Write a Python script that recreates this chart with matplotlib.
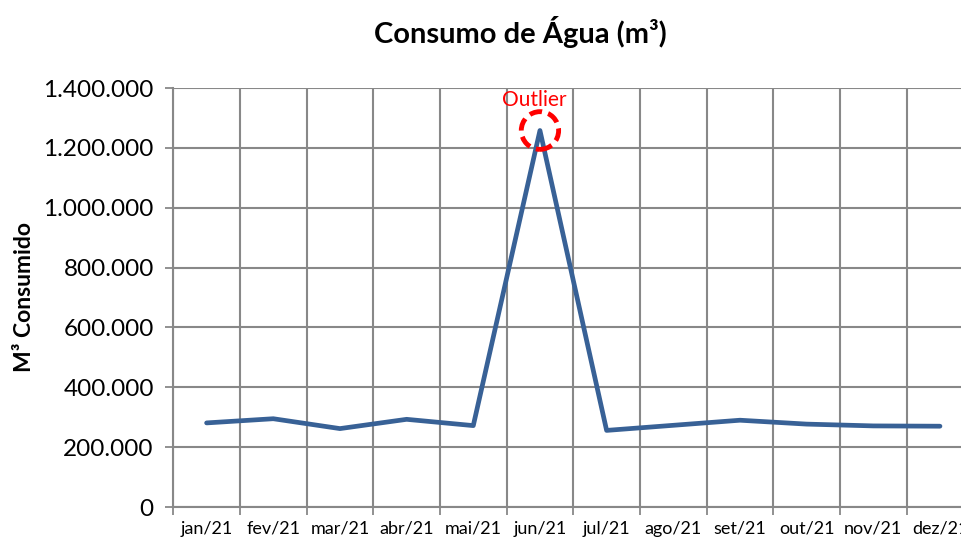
import matplotlib
matplotlib.use("Agg")
import matplotlib.pyplot as plt
from matplotlib.patches import Ellipse
from matplotlib.ticker import FuncFormatter, MultipleLocator
import numpy as np

months = ["jan/21", "fev/21", "mar/21", "abr/21", "mai/21", "jun/21",
          "jul/21", "ago/21", "set/21", "out/21", "nov/21", "dez/21"]
consumo = [281000, 295000, 262000, 293000, 272000, 1258000,
           256000, 273000, 290000, 277000, 271000, 270000]
outlier_label = "Outlier"
outlier_index = 5

plt.rcParams['font.family'] = ['Lato', 'DejaVu Sans']

fig = plt.figure(figsize=(9.61, 5.38), dpi=100)
ax = fig.add_axes([0.1803, 0.0576, 1.0128 - 0.1803, 0.8364 - 0.0576])

x = np.arange(len(months))
ax.plot(x, consumo, color="#386196", linewidth=3.4, solid_capstyle="round",
        solid_joinstyle="round", zorder=3)

ax.set_xlim(-0.5, len(months) - 0.5)
ax.set_ylim(0, 1400000)
ax.yaxis.set_major_locator(MultipleLocator(200000))
ax.yaxis.set_major_formatter(FuncFormatter(lambda v, p: f"{int(v):,}".replace(",", ".")))

ax.set_xticks(x)
ax.set_xticklabels(months, fontsize=13)
ax.set_xticks(np.arange(-0.5, len(months), 1.0), minor=True)
ax.tick_params(axis="x", which="major", length=0, pad=10)
ax.tick_params(axis="x", which="minor", length=6, width=1.3, color="#888888", direction="out")
ax.tick_params(axis="y", which="major", length=6, width=1.3, color="#888888",
               direction="out", labelsize=17.5, pad=8)

ax.grid(True, axis="y", which="major", color="#888888", linewidth=1.5)
ax.grid(True, axis="x", which="minor", color="#888888", linewidth=1.5)
ax.grid(False, axis="x", which="major")
ax.set_axisbelow(True)

for s in ["top", "right"]:
    ax.spines[s].set_visible(False)
for s in ["left", "bottom"]:
    ax.spines[s].set_color("#888888")
    ax.spines[s].set_linewidth(1.5)

# Outlier highlight
ox, oy = x[outlier_index], consumo[outlier_index]
circ = Ellipse((ox, oy), width=0.56, height=126000, fill=False, edgecolor="red",
               linewidth=3.5, linestyle=(0, (2.6, 1.3)), zorder=4)
ax.add_patch(circ)
ax.annotate(outlier_label, xy=(ox, oy), xytext=(-4, 15), textcoords="offset points",
            ha="center", va="bottom", color="red", fontsize=15, zorder=5)

fig.text(0.541, 0.94, "Consumo de Água (m³)", ha="center", va="center",
         fontsize=21, fontweight="bold")
fig.text(0.025, 0.448, "M³ Consumido", ha="center", va="center", rotation=90,
         fontsize=16.5, fontweight="bold")

fig.savefig("out.png", dpi=100)
